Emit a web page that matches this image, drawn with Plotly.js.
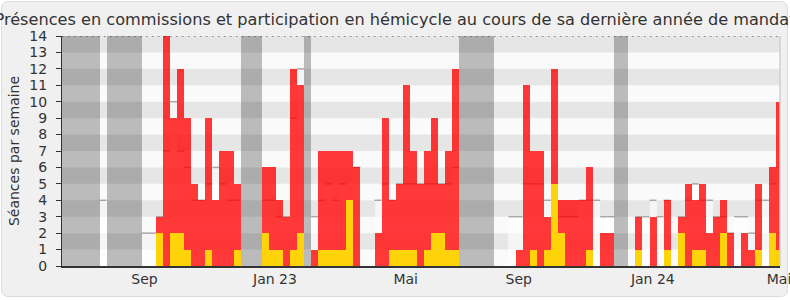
<!DOCTYPE html>
<html>
<head>
<meta charset="utf-8">
<script src="https://cdn.plot.ly/plotly-3.0.1.min.js"></script>
<style>
  html, body { margin: 0; padding: 0; background: #ffffff; }
  #frame { position: absolute; left: 1px; top: 1px; width: 785px; height: 294px;
           border: 1px solid #dcdcdc; border-radius: 7px; background: #f0f0f0; }
  #chart { position: absolute; left: 0; top: 0; width: 790px; height: 300px; }
</style>
</head>
<body>
<div id="frame"></div>
<div id="chart"></div>
<script>
// Semaine de départ (index relatif à la première semaine de séance affichée)
const premiereSemaine = -14;

// Total des séances par semaine (hémicycle + commissions)
const totalSeances = [
  0,0,0,0,0,0, 0, 0,0,0,0,0, 0,0,
  3,14,9,12,9,5,4,9,4,7,7,5,
  0,0,0,
  6,6,4,3,12,11,
  0,
  1,7,7,7,7,7,6,0,0,2,9,4,5,11,7,5,7,9,5,7,12,
  0,0,0,0,0,
  0,0,0,1,11,7,7,3,12,4,4,4,4,6,0,2,2,
  0,0,
  0,3,0,3,0,4,0,3,5,4,5,2,3,4,2,0,2,1,5,0,6,10
];

// Présences en commission par semaine
const commissions = [
  0,0,0,0,0,0, 0, 0,0,0,0,0, 0,0,
  2,0,2,2,1,0,0,1,0,0,0,1,
  0,0,0,
  2,1,1,0,1,2,
  0,
  0,1,1,1,1,4,0,0,0,0,0,1,1,1,1,0,1,2,2,1,1,
  0,0,0,0,0,
  0,0,0,0,0,1,0,1,5,2,0,0,0,1,0,0,0,
  0,0,
  0,1,0,0,0,1,0,2,0,1,1,0,0,2,0,0,0,0,1,0,2,1
];

// Médiane des députés par semaine
const mediane = [
  0,0,0,0,0,0, 4, 0,0,0,0,0, 2,2,
  3,7,10,7,6,4,4,5,6,5,4,4,
  0,0,0,
  4,4,3,3,9,12,
  0,
  3,4,5,4,5,3,6,0,0,4,5,4,5,5,5,5,5,5,5,5,6,
  0,0,0,0,0,
  0,0,3,3,5,5,5,4,4,3,3,3,4,4,4,3,3,
  0,0,
  0,3,3,4,3,4,0,3,4,5,4,4,3,3,2,3,3,2,4,4,5,6
];

// Semaines de vacances parlementaires
const vacances = [-14,-13,-12,-11,-10,-9,-7,-6,-5,-4,-3,12,13,14,21,43,44,45,46,47,65,66];

// Étiquettes de l'axe des mois
const moisLabels = ["Sep", "Jan 23", "Mai", "Sep", "Jan 24", "Mai"];
const moisPos = [-2.13, 16.38, 34.92, 50.96, 69.97, 87.87];

const semaines = totalSeances.map((_, i) => premiereSemaine + i);

// median line as horizontal segments only
const mx = [], my = [];
semaines.forEach((s, i) => {
  if (mediane[i] > 0) { mx.push(s - 0.5, s + 0.5, null); my.push(mediane[i], mediane[i], null); }
});

const font = 'DejaVu Sans, Verdana, sans-serif';

const traces = [
  { type: 'bar', x: semaines, y: mediane, xaxis: 'x', yaxis: 'y',
    marker: { color: 'rgba(255,255,255,0.6)', line: { width: 0 } }, hoverinfo: 'skip' },
  { type: 'scatter', mode: 'lines', x: mx, y: my, xaxis: 'x', yaxis: 'y',
    line: { color: '#a8a8a8', width: 1.5 }, connectgaps: false, hoverinfo: 'skip' },
  { type: 'bar', x: semaines, y: totalSeances, xaxis: 'x2', yaxis: 'y2',
    marker: { color: 'rgba(255,0,0,0.78)', line: { width: 0 } } },
  { type: 'bar', x: semaines, y: commissions, xaxis: 'x2', yaxis: 'y2',
    marker: { color: '#ffd30a', line: { width: 0 } } },
  { type: 'bar', x: vacances, y: vacances.map(() => 14), xaxis: 'x2', yaxis: 'y2',
    marker: { color: 'rgba(0,0,0,0.25)', line: { width: 0 } }, hoverinfo: 'skip' }
];

const xr = [-13.83, 88.01];
const shapes = [];
for (let k = 1; k < 14; k += 2) {
  shapes.push({ type: 'rect', xref: 'paper', yref: 'y', x0: 0, x1: 1, y0: k, y1: k + 1,
    fillcolor: '#e6e6e6', line: { width: 0 }, layer: 'below' });
}
shapes.push({ type: 'line', xref: 'paper', yref: 'y', x0: 0, x1: 1, y0: 14, y1: 14,
  line: { color: '#222', width: 1, dash: '1.5px,4.5px' }, layer: 'above' });
shapes.push({ type: 'line', xref: 'paper', yref: 'paper', x0: 1, x1: 1, y0: 0, y1: 1,
  line: { color: '#cfcfcf', width: 1.5 }, layer: 'above' });

const layout = {
  width: 790, height: 300,
  margin: { l: 62, r: 10, t: 36, b: 34 },
  paper_bgcolor: 'rgba(0,0,0,0)',
  plot_bgcolor: '#fafafa',
  showlegend: false,
  barmode: 'overlay',
  bargap: 0,
  font: { family: font, color: '#333' },
  title: { text: 'Présences en commissions et participation en hémicycle au cours de sa dernière année de mandat',
    font: { family: font, size: 16.15, color: '#333' }, x: 0.5, xref: 'container', xanchor: 'center',
    y: 0.935, yref: 'container', yanchor: 'middle' },
  xaxis: { range: xr, tickvals: moisPos, ticktext: moisLabels, ticks: '', showgrid: false, zeroline: false,
    ticklabeloverflow: 'allow',
    showline: true, linecolor: '#333', linewidth: 1.5, tickfont: { size: 14, color: '#333', family: font } },
  yaxis: { range: [0, 14], dtick: 1, tick0: 0, ticks: 'outside', ticklen: 5, tickcolor: '#333',
    showgrid: false, zeroline: false, showline: true, linecolor: '#333', linewidth: 1,
    ticklabelstandoff: 6,
    tickfont: { size: 14, color: '#333', family: font },
    title: { text: 'Séances par semaine', font: { size: 14, color: '#333', family: font }, standoff: 6 } },
  xaxis2: { overlaying: 'x', range: xr, visible: false, showgrid: false, zeroline: false },
  yaxis2: { overlaying: 'y', range: [0, 14], visible: false, showgrid: false, zeroline: false },
  shapes: shapes
};

Plotly.newPlot('chart', traces, layout, { displayModeBar: false, staticPlot: true });
</script>
</body>
</html>
